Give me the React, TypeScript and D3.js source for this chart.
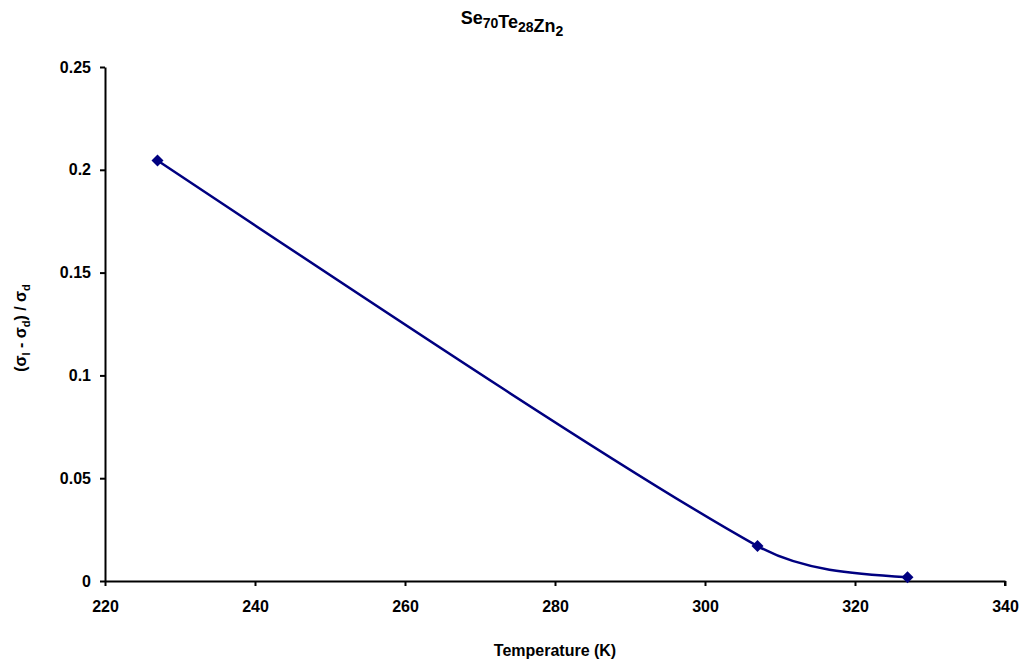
import { useRef, useEffect } from 'react'
import * as d3 from 'd3'

// values
const temperatures = [227, 307, 327]
const ratios = [0.2045, 0.017, 0.0018]
const xTicks = [220, 240, 260, 280, 300, 320, 340]
const yTicks = [0, 0.05, 0.1, 0.15, 0.2, 0.25]

const WIDTH = 1023
const HEIGHT = 662
const FONT = '"Liberation Sans", Arial, sans-serif'

type Pt = [number, number]

// spreadsheet-style smoothed line: bezier arms of (next - prev) / 6,
// clipped to a third of the segment, natural tangents at the two ends
function smoothPath(pts: Pt[]) {
  const p = d3.path()
  const n = pts.length
  if (n < 2) return ''
  const segLen = (i: number) => Math.hypot(pts[i + 1][0] - pts[i][0], pts[i + 1][1] - pts[i][1])
  const arms: { before: Pt; after: Pt }[] = pts.map(() => ({ before: [0, 0], after: [0, 0] }))
  for (let i = 1; i < n - 1; i++) {
    const dx = (pts[i + 1][0] - pts[i - 1][0]) / 6
    const dy = (pts[i + 1][1] - pts[i - 1][1]) / 6
    const len = Math.hypot(dx, dy)
    const capB = segLen(i - 1) / 3
    const capA = segLen(i) / 3
    const kB = len > capB ? capB / len : 1
    const kA = len > capA ? capA / len : 1
    arms[i].before = [-dx * kB, -dy * kB]
    arms[i].after = [dx * kA, dy * kA]
  }
  // natural end conditions
  if (n > 2) {
    const t1: Pt = [-3 * arms[1].before[0], -3 * arms[1].before[1]]
    const t0: Pt = [(3 * (pts[1][0] - pts[0][0]) - t1[0]) / 2, (3 * (pts[1][1] - pts[0][1]) - t1[1]) / 2]
    arms[0].after = [t0[0] / 3, t0[1] / 3]
    const tm: Pt = [3 * arms[n - 2].after[0], 3 * arms[n - 2].after[1]]
    const tn: Pt = [(3 * (pts[n - 1][0] - pts[n - 2][0]) - tm[0]) / 2, (3 * (pts[n - 1][1] - pts[n - 2][1]) - tm[1]) / 2]
    arms[n - 1].before = [-tn[0] / 3, -tn[1] / 3]
  } else {
    arms[0].after = [(pts[1][0] - pts[0][0]) / 3, (pts[1][1] - pts[0][1]) / 3]
    arms[1].before = [-(pts[1][0] - pts[0][0]) / 3, -(pts[1][1] - pts[0][1]) / 3]
  }
  p.moveTo(pts[0][0], pts[0][1])
  for (let i = 0; i < n - 1; i++) {
    const a = pts[i]
    const b = pts[i + 1]
    p.bezierCurveTo(
      a[0] + arms[i].after[0], a[1] + arms[i].after[1],
      b[0] + arms[i + 1].before[0], b[1] + arms[i + 1].before[1],
      b[0], b[1]
    )
  }
  return p.toString()
}

export default function App() {
  const svgRef = useRef<SVGSVGElement>(null)

  useEffect(() => {
    if (!svgRef.current) return
    const svg = d3.select(svgRef.current)
    svg.selectAll('*').remove()

    const x = d3.scaleLinear().domain([220, 340]).range([105, 1005])
    const y = d3.scaleLinear().domain([0, 0.25]).range([581, 67])

    // x axis
    const xAxis = svg.append('g')
      .attr('transform', `translate(0,${y(0)})`)
      .call(d3.axisBottom(x).tickValues(xTicks).tickSize(5).tickSizeOuter(0).tickPadding(15).tickFormat(d => String(d)))
    xAxis.select('.domain').attr('stroke', '#000').attr('stroke-width', 2)
    xAxis.selectAll('.tick line').attr('stroke', '#000').attr('stroke-width', 2)
    xAxis.selectAll('text')
      .attr('font-family', FONT).attr('font-size', 16).attr('font-weight', 'bold').attr('fill', '#000')

    // y axis
    const yAxis = svg.append('g')
      .attr('transform', `translate(${x(220)},0)`)
      .call(d3.axisLeft(y).tickValues(yTicks).tickSize(5).tickSizeOuter(0).tickPadding(9).tickFormat(d => String(+d)))
    yAxis.select('.domain').attr('stroke', '#000').attr('stroke-width', 2)
    yAxis.selectAll('.tick line').attr('stroke', '#000').attr('stroke-width', 2)
    yAxis.selectAll('text')
      .attr('font-family', FONT).attr('font-size', 16).attr('font-weight', 'bold').attr('fill', '#000')

    // end cap at the right of the x axis
    svg.append('line')
      .attr('x1', x(340)).attr('x2', x(340)).attr('y1', y(0)).attr('y2', y(0) + 5)
      .attr('stroke', '#000').attr('stroke-width', 2)

    const data = temperatures.map((t, i) => [t, ratios[i]] as Pt)
    const scaled = data.map(d => [x(d[0]), y(d[1])] as Pt)

    svg.append('path')
      .attr('d', smoothPath(scaled))
      .attr('fill', 'none')
      .attr('stroke', '#000080')
      .attr('stroke-width', 2.5)

    svg.selectAll('.pt')
      .data(data)
      .enter()
      .append('path')
      .attr('class', 'pt')
      .attr('d', d3.symbol(d3.symbolSquare, 72)())
      .attr('transform', d => `translate(${x(d[0])},${y(d[1])}) rotate(45)`)
      .attr('fill', '#000080')

    // title with subscripts
    const title = svg.append('text')
      .attr('x', 512).attr('y', 24)
      .attr('text-anchor', 'middle')
      .attr('font-family', FONT).attr('font-size', 18).attr('font-weight', 'bold')
    const part = (main: string, s: string) => {
      title.append('tspan').attr('font-size', 18).attr('dy', 0).text(main)
      title.append('tspan').attr('font-size', 14).attr('dy', 4).text(s)
      title.append('tspan').attr('font-size', 18).attr('dy', -4).text('')
    }
    part('Se', '70')
    part('Te', '28')
    part('Zn', '2')

    // y label
    const yl = svg.append('text')
      .attr('transform', `translate(26,${(y(0) + y(0.25)) / 2 + 4}) rotate(-90)`)
      .attr('text-anchor', 'middle')
      .attr('font-family', FONT).attr('font-size', 16).attr('font-weight', 'bold')
    yl.append('tspan').text('(σ')
    yl.append('tspan').attr('font-size', 11).attr('dy', 4).text('l')
    yl.append('tspan').attr('dy', -4).text(' - σ')
    yl.append('tspan').attr('font-size', 11).attr('dy', 4).text('d')
    yl.append('tspan').attr('dy', -4).text(') / σ')
    yl.append('tspan').attr('font-size', 11).attr('dy', 4).text('d')

    // x label
    svg.append('text')
      .attr('x', (x(220) + x(340)) / 2).attr('y', 656)
      .attr('text-anchor', 'middle')
      .attr('font-family', FONT).attr('font-size', 16).attr('font-weight', 'bold')
      .text('Temperature (K)')
  }, [])

  return (
    <svg
      ref={svgRef}
      width={WIDTH}
      height={HEIGHT}
      style={{ position: 'absolute', left: 0, top: 0, background: '#fff' }}
    />
  )
}
